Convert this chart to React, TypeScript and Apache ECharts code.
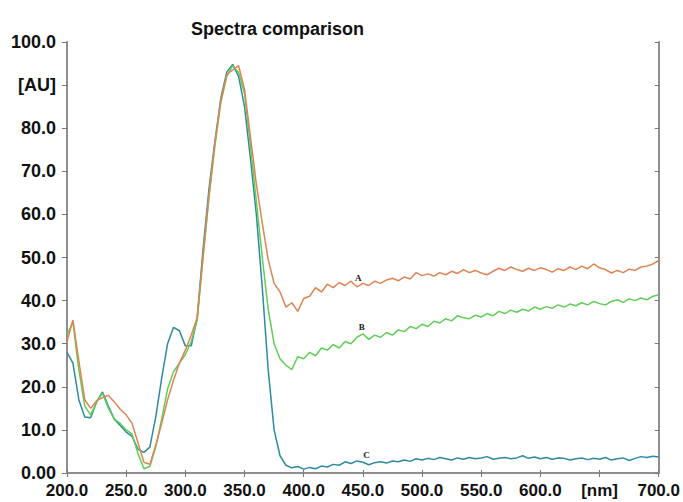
import React, { useEffect, useRef } from "react";
import * as echarts from "echarts";

const wavelengths = [
  200, 205, 210, 215, 220, 225, 230, 235, 240, 245, 250, 255, 260, 265, 270, 275, 280, 285, 290, 295,
  300, 305, 310, 315, 320, 325, 330, 335, 340, 345, 350, 355, 360, 365, 370, 375, 380, 385, 390, 395,
  400, 405, 410, 415, 420, 425, 430, 435, 440, 445, 450, 455, 460, 465, 470, 475, 480, 485, 490, 495,
  500, 505, 510, 515, 520, 525, 530, 535, 540, 545, 550, 555, 560, 565, 570, 575, 580, 585, 590, 595,
  600, 605, 610, 615, 620, 625, 630, 635, 640, 645, 650, 655, 660, 665, 670, 675, 680, 685, 690, 695,
  700,
];

const seriesA = [
  30.5, 35.5, 26.0, 17.0, 15.0, 16.8, 17.5, 18.0, 16.5, 14.8, 13.5, 11.5, 7.0, 2.5, 2.0, 6.5, 11.5, 17.0, 21.5, 25.5,
  28.5, 32.0, 36.0, 50.5, 64.5, 76.5, 86.5, 92.5, 93.5, 94.5, 89.0, 78.0, 67.0, 58.0, 49.5, 44.0, 42.0, 38.5, 39.5, 37.5,
  40.5, 41.0, 43.0, 42.0, 43.8, 43.0, 44.2, 43.5, 44.5, 43.2, 44.0, 43.5, 44.5, 44.0, 44.8, 45.2, 44.6, 45.5, 45.0, 46.5,
  45.8, 46.2, 45.7, 46.5, 46.0, 46.8, 46.3, 47.2, 46.5, 47.0, 46.4, 46.0, 46.8, 47.5, 47.0, 47.8, 47.2, 46.8, 47.5, 47.0,
  47.6, 47.2, 46.6, 47.4, 47.0, 47.8, 47.2, 48.0, 47.4, 48.5, 47.6, 47.2, 46.4, 47.0, 46.5, 47.3, 47.0, 47.8, 48.0, 48.5,
  49.3,
];

const seriesB = [
  32.0, 35.0, 24.0, 15.5, 13.5, 16.5, 18.5, 15.0, 12.5, 11.5, 10.0, 9.0, 4.5, 1.0, 1.5, 6.0, 12.5, 19.5, 23.5, 25.5,
  27.5, 30.5, 35.5, 50.0, 64.0, 76.0, 86.0, 92.0, 94.5, 93.0, 88.0, 76.0, 63.0, 50.0, 38.0, 30.0, 26.5, 25.0, 24.0, 27.0,
  26.5, 28.0, 27.2, 29.0, 28.5, 29.8, 29.0, 30.5, 30.0, 31.5, 32.3, 31.0, 32.0, 31.5, 32.6, 32.0, 33.2, 32.8, 34.0, 33.5,
  34.5, 34.0, 35.2, 34.8, 35.8, 35.3, 36.5, 36.0, 35.8, 36.6, 36.2, 37.0, 36.5, 37.5, 37.0, 37.8, 37.3, 38.0, 37.6, 38.5,
  38.0, 38.6, 38.2, 39.0, 38.5, 39.2, 38.8, 39.5, 39.0, 39.8, 39.3, 39.0, 39.8, 40.2, 39.6, 40.4, 40.0, 40.6, 40.2, 41.0,
  41.3,
];

const seriesC = [
  28.0, 25.5, 17.0, 13.0, 12.8, 16.5, 18.8, 15.5, 12.5, 11.0, 9.5, 8.5, 5.5, 4.8, 6.0, 13.0, 22.0, 30.0, 33.8, 33.0,
  29.5, 29.5, 36.0, 52.0, 66.0, 77.0, 87.0, 93.0, 94.8, 92.0, 85.0, 73.0, 60.0, 43.0, 24.0, 10.0, 4.0, 1.8, 1.2, 1.5,
  0.9, 1.3, 1.0, 1.6, 1.4, 2.0, 1.8, 2.6, 2.2, 2.8, 2.5, 1.9, 2.4, 2.6, 2.3, 2.8, 2.6, 3.0, 2.7, 3.3,
  3.0, 3.4, 3.1, 3.6, 3.3, 3.0, 3.5, 3.2, 3.6, 3.3, 3.5, 3.8, 3.2, 3.4, 3.6, 3.3, 3.5, 4.0, 3.4, 3.7,
  3.3, 3.6, 3.2, 3.5, 3.4, 3.0, 3.3, 3.5, 3.1, 3.4, 3.2, 3.6, 3.0, 3.3, 3.5, 2.9, 3.4, 3.8, 3.6, 3.9,
  3.7,
];

const xTickLabels = ["200.0", "250.0", "300.0", "350.0", "400.0", "450.0", "500.0", "550.0", "600.0", "[nm]", "700.0"];
const yTickLabels = ["0.00", "10.0", "20.0", "30.0", "40.0", "50.0", "60.0", "70.0", "80.0", "[AU]", "100.0"];

const seriesNames = ["A", "B", "C"];
const seriesColors = ["#de8453", "#5fcf55", "#2f8aa0"];
const labelPoints = [
  [446, 45.2],
  [449, 33.9],
  [453, 4.2],
];

const FONT = "'Liberation Sans', Arial, sans-serif";

export default function App() {
  const ref = useRef<HTMLDivElement>(null);
  useEffect(() => {
    if (!ref.current) return;
    const chart = echarts.init(ref.current, null, { renderer: "svg" });
    const allData = [seriesA, seriesB, seriesC];
    const axisLine = { show: true, lineStyle: { color: "#8f8f8f", width: 2 } };
    chart.setOption({
      animation: false,
      backgroundColor: "#ffffff",
      title: {
        text: "Spectra comparison",
        left: 186,
        top: 15,
        textStyle: { fontFamily: FONT, fontWeight: "bold", fontSize: 18, color: "#111" },
      },
      grid: { left: 67, right: 21, top: 42, bottom: 29 },
      xAxis: [
        {
          type: "value",
          min: 200,
          max: 700,
          interval: 50,
          position: "bottom",
          axisLine,
          axisTick: { show: true, inside: false, length: 4, lineStyle: { color: "#777" } },
          splitLine: { show: false },
          axisLabel: {
            margin: 9,
            fontFamily: FONT,
            fontWeight: "bold",
            fontSize: 17,
            color: "#111",
            formatter: (v: number) => xTickLabels[Math.round((v - 200) / 50)] ?? "",
          },
        },
        {
          type: "value",
          min: 200,
          max: 700,
          interval: 50,
          position: "top",
          axisLine,
          axisTick: { show: true, inside: false, length: 3, lineStyle: { color: "#777" } },
          splitLine: { show: false },
          axisLabel: { show: false },
        },
      ],
      yAxis: [
        {
          type: "value",
          min: 0,
          max: 100,
          interval: 10,
          position: "left",
          axisLine,
          axisTick: { show: true, inside: false, length: 5, lineStyle: { color: "#777" } },
          splitLine: { show: false },
          axisLabel: {
            margin: 11,
            fontFamily: FONT,
            fontWeight: "bold",
            fontSize: 18,
            color: "#111",
            formatter: (v: number) => yTickLabels[Math.round(v / 10)] ?? "",
          },
        },
        {
          type: "value",
          min: 0,
          max: 100,
          interval: 10,
          position: "right",
          axisLine,
          axisTick: { show: true, inside: true, length: 4, lineStyle: { color: "#777" } },
          splitLine: { show: false },
          axisLabel: { show: false },
        },
      ],
      series: seriesNames.map((name, i) => ({
        name,
        type: "line",
        xAxisIndex: 0,
        yAxisIndex: 0,
        showSymbol: false,
        symbol: "none",
        lineStyle: { color: seriesColors[i], width: 1.5 },
        itemStyle: { color: seriesColors[i] },
        data: wavelengths.map((w, j) => [w, allData[i][j]]),
        z: 3 - i,
        markPoint: {
          symbol: "circle",
          symbolSize: 1,
          itemStyle: { color: "rgba(0,0,0,0)" },
          label: {
            show: true,
            position: "inside",
            formatter: name,
            fontFamily: "'Liberation Serif', 'Times New Roman', serif",
            fontWeight: "bold",
            fontSize: 9,
            color: "#222",
          },
          data: [{ coord: labelPoints[i] }],
        },
      })),
    });
    return () => chart.dispose();
  }, []);
  return <div ref={ref} style={{ width: 683, height: 502, position: "absolute", left: 0, top: 0 }} />;
}
